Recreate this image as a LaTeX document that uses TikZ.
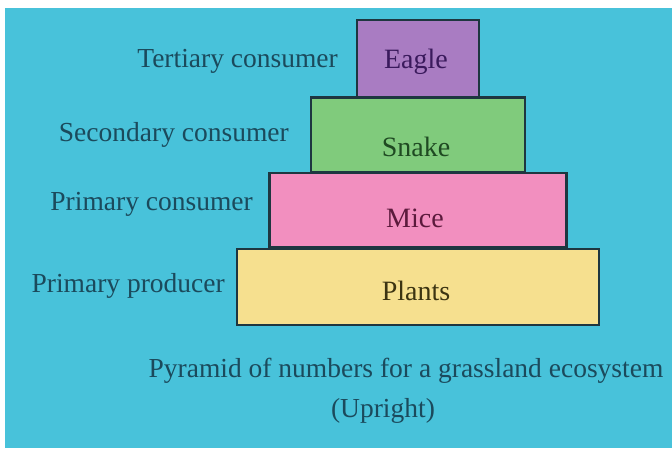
\documentclass[tikz,border=0pt]{standalone}
\usepackage{fontspec}
\setmainfont{Liberation Serif}
\definecolor{bgcyan}{HTML}{48C2DA}
\definecolor{labelcol}{HTML}{1B4A5C}
\definecolor{edgecol}{HTML}{1E3640}
\definecolor{eaglefill}{HTML}{A97CC2}
\definecolor{snakefill}{HTML}{80CB7C}
\definecolor{micefill}{HTML}{F28FBF}
\definecolor{plantfill}{HTML}{F6E08F}
\definecolor{eagletext}{HTML}{3A1A5C}
\definecolor{snaketext}{HTML}{1F4A22}
\definecolor{micetext}{HTML}{5C1A3C}
\definecolor{planttext}{HTML}{3C3412}
\tikzset{
  level/.style={draw=edgecol, line width=2.4pt, inner sep=0pt, outer sep=0pt},
  leveltext/.style={inner sep=0pt, font=\fontsize{28}{32}\selectfont},
  sidelabel/.style={anchor=east, inner sep=0pt, text=labelcol, font=\fontsize{27.5}{32}\selectfont},
  caption/.style={inner sep=0pt, text=labelcol, font=\fontsize{27.5}{32}\selectfont}
}
\begin{document}
\begin{tikzpicture}[x=1pt,y=-1pt]
\useasboundingbox (0,0) rectangle (672,448);
\fill[white] (0,0) rectangle (672,448);
\fill[bgcyan] (5,8) rectangle (672,448);
% pyramid levels
\node[level, fill=plantfill, minimum width=362pt, minimum height=76pt] (plants) at (418,287) {};
\node[level, fill=micefill, minimum width=297pt, minimum height=74pt] (mice) at (418,210) {};
\node[level, fill=snakefill, minimum width=214pt, minimum height=75pt] (snake) at (418,135) {};
\node[level, fill=eaglefill, minimum width=122pt, minimum height=77pt] (eagle) at (418,58.5) {};
\node[leveltext, text=planttext] (plantst) at (416,291) {Plants};
\node[leveltext, text=micetext] (micet) at (415,218) {Mice};
\node[leveltext, text=snaketext] (snaket) at (416,147) {Snake};
\node[leveltext, text=eagletext] (eaglet) at (416,62) {Eagle};
% side labels
\node[sidelabel] (tert) at (338,61) {Tertiary consumer};
\node[sidelabel] (sec) at (289,135) {Secondary consumer};
\node[sidelabel] (prim) at (253,204) {Primary consumer};
\node[sidelabel] (prod) at (225,286) {Primary producer};
% caption
\node[caption] (cap1) at (406,371) {Pyramid of numbers for a grassland ecosystem};
\node[caption] (cap2) at (383,411) {(Upright)};
\end{tikzpicture}
\end{document}
